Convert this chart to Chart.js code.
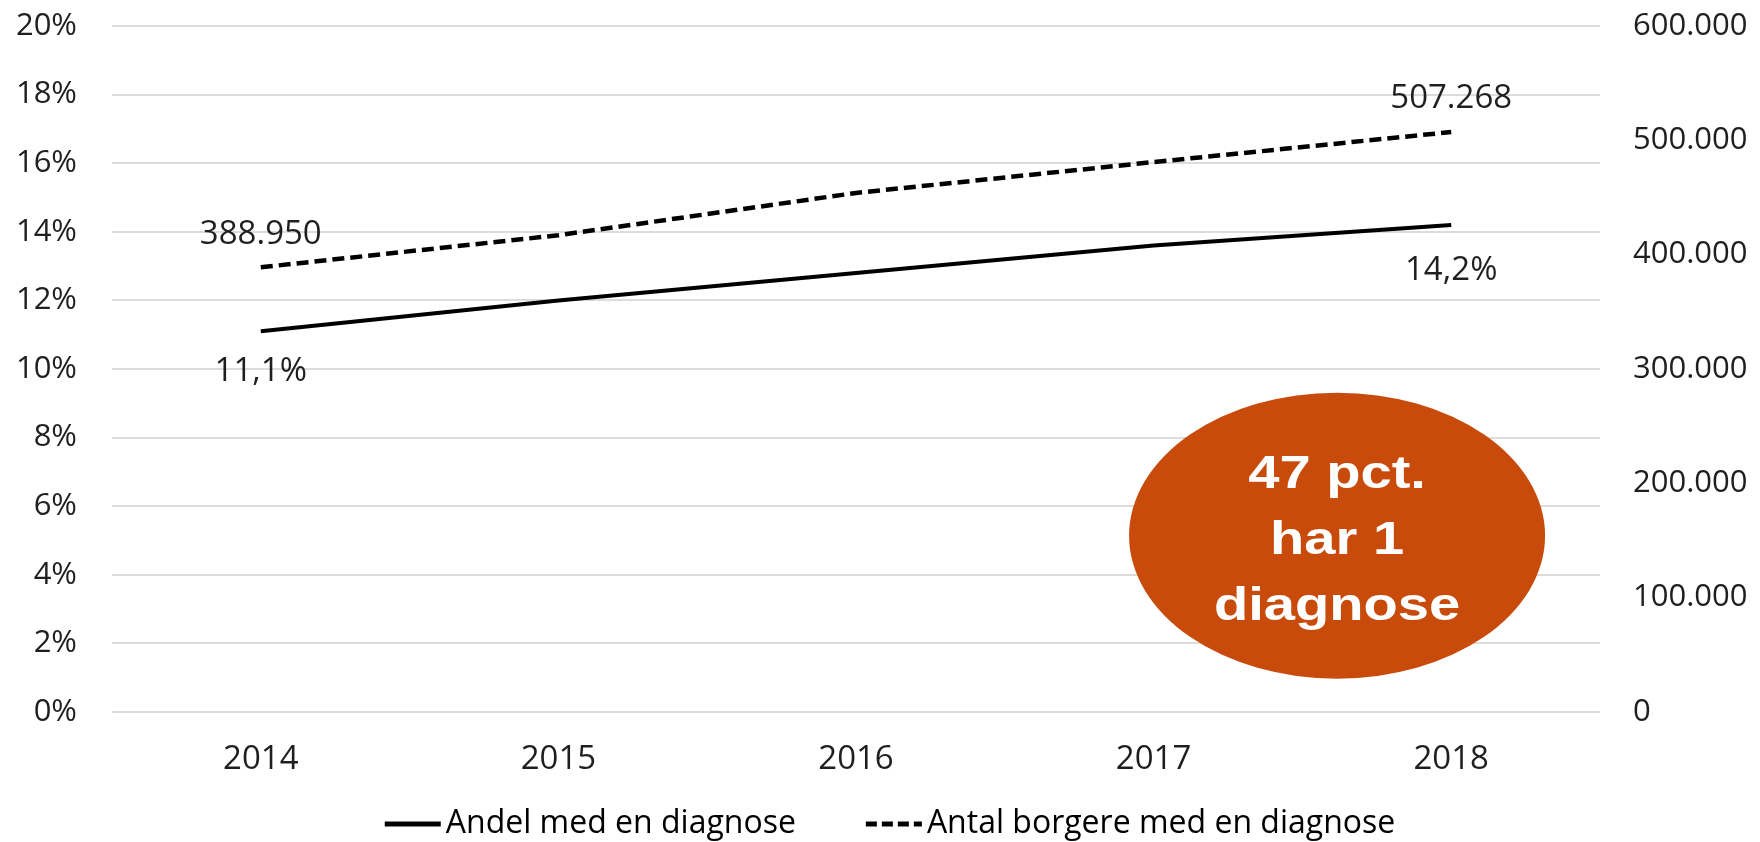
<!DOCTYPE html>
<html>
<head>
<meta charset="utf-8">
<script src="https://cdn.jsdelivr.net/npm/chart.js@4"></script>
<style>
  body { margin: 0; background: #fff; }
  #wrap { width: 1760px; height: 842px; }
</style>
</head>
<body>
<div id="wrap"><canvas id="diagnoseChart"></canvas></div>
<script>
// data
const years = ['2014', '2015', '2016', '2017', '2018'];
const andelPct = [11.1, 12.0, 12.8, 13.6, 14.2];
const antalBorgere = [388950, 417000, 454000, 481000, 507268];
const labelledPoints = [0, 4];
const seriesNames = ['Andel med en diagnose', 'Antal borgere med en diagnose'];
const calloutLines = ['47 pct.', 'har 1', 'diagnose'];

const textColor = '#1f1f1f';
const baseFont = '"Open Sans", "Liberation Sans", sans-serif';
const fontSize = 33;
const yTickSize = 31;
const legendSize = 32;

// danish number format: 388.950 and 11,1
function fmtThousands(v) {
  return Math.round(v).toString().replace(/\B(?=(\d{3})+(?!\d))/g, '.');
}
function fmtPct(v, dec) {
  return v.toFixed(dec).replace('.', ',') + '%';
}

// value labels at first and last point
const pointLabels = {
  id: 'pointLabels',
  afterDatasetsDraw(chart) {
    const ctx = chart.ctx;
    ctx.save();
    ctx.font = fontSize + 'px ' + baseFont;
    ctx.fillStyle = textColor;
    ctx.textAlign = 'center';
    ctx.textBaseline = 'middle';
    const pctMeta = chart.getDatasetMeta(0);
    const antMeta = chart.getDatasetMeta(1);
    labelledPoints.forEach((i, k) => {
      const p = pctMeta.data[i];
      ctx.fillText(fmtPct(andelPct[i], 1), p.x, p.y + (k === 0 ? 40 : 46));
      const q = antMeta.data[i];
      ctx.fillText(fmtThousands(antalBorgere[i]), q.x, q.y - 33);
    });
    ctx.restore();
  }
};

// legend drawn by hand so the dashed swatch shows and spacing matches
const bottomLegend = {
  id: 'bottomLegend',
  afterDraw(chart) {
    const ctx = chart.ctx;
    const y = chart.height - 18;
    const sw = 56, gap = 5, itemGap = 70;
    ctx.save();
    ctx.font = legendSize + 'px ' + baseFont;
    const widths = seriesNames.map(t => ctx.measureText(t).width);
    const total = widths.reduce((a, b) => a + b, 0) + seriesNames.length * (sw + gap) + itemGap;
    let x = chart.width / 2 + 10 - total / 2;
    ctx.textBaseline = 'middle';
    ctx.fillStyle = '#000';
    seriesNames.forEach((name, i) => {
      const ds = chart.data.datasets[i];
      ctx.strokeStyle = ds.borderColor;
      ctx.lineWidth = 5;
      ctx.setLineDash(ds.borderDash ? [11, 5] : []);
      ctx.beginPath();
      ctx.moveTo(x, y);
      ctx.lineTo(x + sw, y);
      ctx.stroke();
      ctx.setLineDash([]);
      ctx.fillText(name, x + sw + gap, y);
      x += sw + gap + widths[i] + itemGap;
    });
    ctx.restore();
  }
};

// orange callout bubble
const callout = {
  id: 'callout',
  afterDraw(chart) {
    const a = chart.chartArea;
    const ctx = chart.ctx;
    const cx = a.left + (a.right - a.left) * 0.8233;
    const cy = a.top + (a.bottom - a.top) * 0.743;
    ctx.save();
    ctx.fillStyle = '#c84b0b';
    ctx.beginPath();
    ctx.ellipse(cx, cy, 208, 143, 0, 0, Math.PI * 2);
    ctx.fill();
    ctx.fillStyle = '#ffffff';
    ctx.font = 'bold 46px "Liberation Sans", Arial, sans-serif';
    ctx.textAlign = 'center';
    ctx.textBaseline = 'alphabetic';
    calloutLines.forEach((t, i) => {
      ctx.save();
      ctx.translate(cx, cy - 48 + i * 66);
      ctx.scale(1.22, 1);
      ctx.fillText(t, 0, 0);
      ctx.restore();
    });
    ctx.restore();
  }
};

function noPad(axis) {
  axis.paddingTop = 0;
  axis.paddingBottom = 0;
  axis.paddingLeft = 0;
  axis.paddingRight = 0;
}

const chart = new Chart(document.getElementById('diagnoseChart'), {
  type: 'line',
  data: {
    labels: years,
    datasets: [{
      label: seriesNames[0],
      data: andelPct,
      yAxisID: 'yPct',
      borderColor: '#000',
      backgroundColor: '#000',
      borderWidth: 4,
      pointRadius: 0,
      tension: 0
    }, {
      label: seriesNames[1],
      data: antalBorgere,
      yAxisID: 'yAntal',
      borderColor: '#000',
      backgroundColor: '#000',
      borderWidth: 4.5,
      borderDash: [12, 6],
      pointRadius: 0,
      tension: 0
    }]
  },
  options: {
    responsive: true,
    maintainAspectRatio: false,
    animation: false,
    layout: { padding: { top: 26, bottom: 62, left: 0, right: 0 } },
    plugins: {
      tooltip: { enabled: false },
      legend: { display: false }
    },
    scales: {
      x: {
        offset: true,
        grid: { display: false, drawTicks: false },
        border: { display: false },
        ticks: { color: textColor, padding: 28, font: { family: baseFont, size: fontSize } },
        afterFit(axis) { noPad(axis); axis.height = 68; }
      },
      yPct: {
        position: 'left',
        min: 0,
        max: 20,
        ticks: {
          stepSize: 2,
          padding: 35,
          color: textColor,
          font: { family: baseFont, size: yTickSize },
          callback: v => v + '%'
        },
        grid: { color: '#dcdcdc', lineWidth: 2, drawTicks: false },
        border: { display: false },
        afterFit(axis) { noPad(axis); axis.width = 112; }
      },
      yAntal: {
        position: 'right',
        min: 0,
        max: 600000,
        ticks: {
          stepSize: 100000,
          padding: 33,
          color: textColor,
          font: { family: baseFont, size: yTickSize },
          callback: v => fmtThousands(v)
        },
        grid: { display: false, drawTicks: false },
        border: { display: false },
        afterFit(axis) { noPad(axis); axis.width = 160; }
      }
    }
  },
  plugins: [pointLabels, callout, bottomLegend]
});
</script>
</body>
</html>
